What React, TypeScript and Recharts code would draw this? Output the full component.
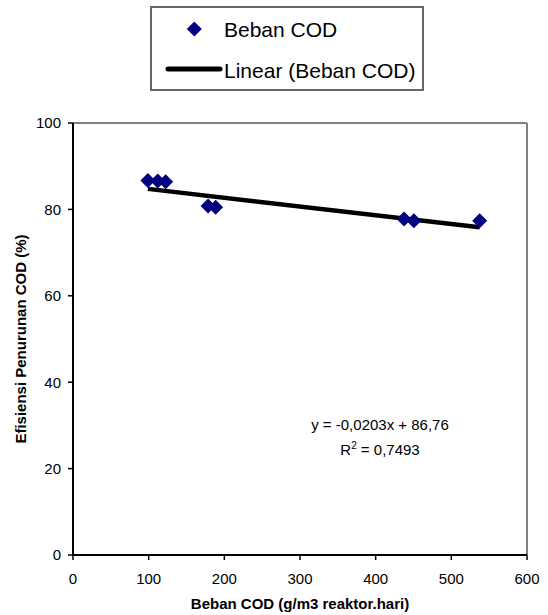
import React from 'react';
import {
  ScatterChart,
  Scatter,
  XAxis,
  YAxis,
  ReferenceLine,
  Legend,
} from 'recharts';

// Beban COD (g/m3 reaktor.hari) vs efisiensi penurunan COD (%)
const bebanCOD = [99, 112, 122.5, 178.5, 188.5, 437.5, 450.5, 537.5];
const efisiensi = [86.7, 86.6, 86.4, 80.8, 80.5, 77.8, 77.4, 77.4];

// trendline from the equation printed on the chart
const slope = -0.0203;
const intercept = 86.76;
const rSquared = '0,7493';

const xTicks = [0, 100, 200, 300, 400, 500, 600];
const yTicks = [0, 20, 40, 60, 80, 100];

const seriesName = 'Beban COD';
const trendName = 'Linear (Beban COD)';

const FONT = "'Liberation Sans', Arial, sans-serif";
const NAVY = '#000080';

const points = bebanCOD.map((x, i) => ({ x, y: efisiensi[i] }));
const xMin = Math.min(...bebanCOD);
const xMax = Math.max(...bebanCOD);
const trend = [xMin, xMax].map((x) => ({ x, y: slope * x + intercept }));

const Diamond = (props: any) => {
  const { cx, cy } = props;
  if (cx == null || cy == null) return <g />;
  const r = 7.5;
  return (
    <path
      d={`M${cx},${cy - r}L${cx + r},${cy}L${cx},${cy + r}L${cx - r},${cy}Z`}
      fill={NAVY}
    />
  );
};

const NoDot = () => <g />;

const renderLegend = () => (
  <div
    style={{
      position: 'absolute',
      left: 150,
      top: 6,
      width: 274,
      height: 85,
      boxSizing: 'border-box',
      border: '2px solid #666',
      background: '#fff',
    }}
  >
    <svg width={270} height={81} style={{ display: 'block' }}>
      <path d="M42.3,13.5L49.8,21L42.3,28.5L34.8,21Z" fill={NAVY} />
      <text x={72} y={21} dominantBaseline="central" fontSize={21} fontFamily={FONT} fill="#000">
        {seriesName}
      </text>
      <line x1={16} y1={61} x2={68} y2={61} stroke="#000" strokeWidth={5} strokeLinecap="round" />
      <text x={72} y={62} dominantBaseline="central" fontSize={21} fontFamily={FONT} fill="#000">
        {trendName}
      </text>
    </svg>
  </div>
);

export default function App() {
  const tickStyle = { fontSize: 15, fontFamily: FONT, fill: '#000' };
  return (
    <div style={{ position: 'absolute', left: 0, top: 0, width: 548, height: 615, background: '#fff' }}>
      <ScatterChart
        width={548}
        height={615}
        margin={{ top: 123, right: 21, bottom: 30, left: 13 }}
        style={{ fontFamily: FONT }}
      >
        <XAxis
          type="number"
          dataKey="x"
          domain={[0, 600]}
          ticks={xTicks}
          interval={0}
          height={30}
          tick={tickStyle}
          tickSize={5}
          tickMargin={13}
          axisLine={{ stroke: '#000', strokeWidth: 2 }}
          tickLine={{ stroke: '#000', strokeWidth: 1.5 }}
          label={{
            value: 'Beban COD (g/m3 reaktor.hari)',
            position: 'bottom',
            offset: 13,
            style: { fontSize: 15, fontWeight: 'bold', fontFamily: FONT, fill: '#000' },
          }}
        />
        <YAxis
          type="number"
          dataKey="y"
          domain={[0, 100]}
          ticks={yTicks}
          interval={0}
          width={60}
          tick={tickStyle}
          tickSize={5}
          tickMargin={7}
          axisLine={{ stroke: '#000', strokeWidth: 2 }}
          tickLine={{ stroke: '#000', strokeWidth: 1.5 }}
          label={{
            value: 'Efisiensi Penurunan COD (%)',
            angle: -90,
            position: 'insideLeft',
            offset: 8,
            style: { textAnchor: 'middle', fontSize: 15, fontWeight: 'bold', fontFamily: FONT, fill: '#000' },
          }}
        />
        <ReferenceLine y={100} stroke="#808080" strokeWidth={2} />
        <ReferenceLine x={600} stroke="#808080" strokeWidth={2} />
        <Legend
          layout="horizontal"
          verticalAlign="middle"
          align="center"
          content={renderLegend}
          wrapperStyle={{ top: 0, left: 0, width: 548, height: 0 }}
        />
        <Scatter
          name={trendName}
          data={trend}
          line={{ stroke: '#000', strokeWidth: 4.5 }}
          shape={NoDot}
          isAnimationActive={false}
        />
        <Scatter name={seriesName} data={points} shape={Diamond} isAnimationActive={false} />
      </ScatterChart>
      <div
        style={{
          position: 'absolute',
          left: 280,
          top: 411.5,
          width: 200,
          textAlign: 'center',
          fontFamily: FONT,
          fontSize: 15,
          lineHeight: '25px',
          color: '#000',
        }}
      >
        <div>y = -0,0203x + 86,76</div>
        <div>
          R<span style={{ position: 'relative', top: -6, fontSize: 10 }}>2</span> = {rSquared}
        </div>
      </div>
    </div>
  );
}
